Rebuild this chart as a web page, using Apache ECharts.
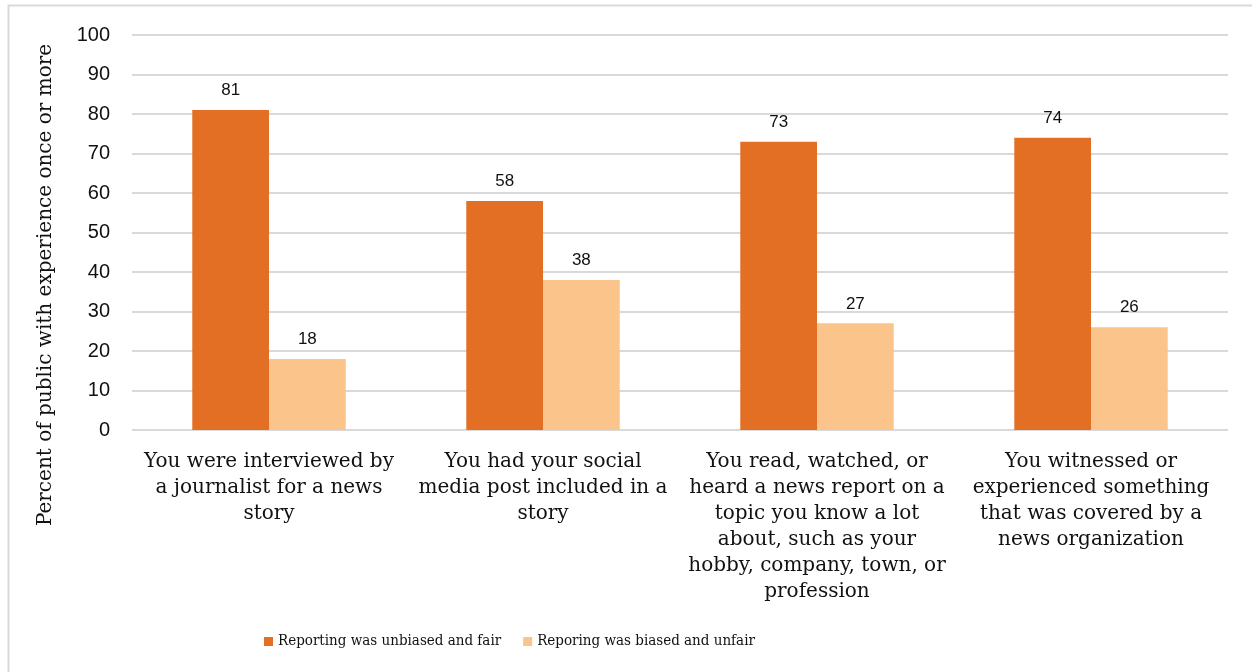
<!DOCTYPE html>
<html>
<head>
<meta charset="utf-8">
<script src="https://cdn.jsdelivr.net/npm/echarts@6/dist/echarts.min.js"></script>
<style>html,body{margin:0;padding:0;background:#fff;}#c{width:1252px;height:672px;}</style>
</head>
<body>
<div id="c"></div>
<script>
const categories = [
  "You were interviewed by\na journalist for a news\nstory",
  "You had your social\nmedia post included in a\nstory",
  "You read, watched, or\nheard a news report on a\ntopic you know a lot\nabout, such as your\nhobby, company, town, or\nprofession",
  "You witnessed or\nexperienced something\nthat was covered by a\nnews organization"
];
const seriesNames = ["Reporting was unbiased and fair", "Reporing was biased and unfair"];
const unbiasedFair = [81, 58, 73, 74];
const biasedUnfair = [18, 38, 27, 26];
const yAxisTitle = "Percent of public with experience once or more";

const chart = echarts.init(document.getElementById('c'), null, {renderer: 'canvas'});
const labelStyle = {show: true, position: 'top', distance: 11, color: '#111', fontFamily: 'Liberation Sans, Arial, sans-serif', fontSize: 17};
chart.setOption({
  animation: false,
  backgroundColor: '#fff',
  graphic: [{
    type: 'rect', shape: {x: 8.5, y: 5.5, width: 1300, height: 700},
    style: {fill: 'none', stroke: '#d9d9d9', lineWidth: 2}, silent: true, z: -1
  }, {
    type: 'text', x: 46, y: 285, rotation: Math.PI / 2, silent: true,
    style: {text: yAxisTitle, fontFamily: 'DejaVu Serif, serif', fontSize: 20, fill: '#111', align: 'center', verticalAlign: 'middle'}
  }],
  grid: {left: 132, right: 24, top: 35, bottom: 242},
  legend: {
    bottom: 18, left: 259, itemWidth: 9, itemHeight: 9, itemGap: 22,
    icon: 'rect',
    textStyle: {fontFamily: 'DejaVu Serif Condensed, DejaVu Serif, serif', fontSize: 15, color: '#111', padding: [0, 0, 0, 0]},
    data: seriesNames
  },
  xAxis: {
    type: 'category', data: categories,
    axisLine: {show: false}, axisTick: {show: false},
    axisLabel: {interval: 0, margin: 19, fontFamily: 'DejaVu Serif, serif', fontSize: 20, lineHeight: 26, color: '#111', align: 'center'}
  },
  yAxis: {
    type: 'value', min: 0, max: 100, interval: 10,
    axisLine: {show: false}, axisTick: {show: false},
    axisLabel: {margin: 22, fontFamily: 'Liberation Sans, Arial, sans-serif', fontSize: 20, color: '#111'},
    splitLine: {lineStyle: {color: '#d9d9d9', width: 2}}
  },
  series: [
    {name: seriesNames[0], type: 'bar', data: unbiasedFair, barGap: '0%', barCategoryGap: '44%',
     itemStyle: {color: '#E36F25'}, label: labelStyle},
    {name: seriesNames[1], type: 'bar', data: biasedUnfair,
     itemStyle: {color: '#FAC48A'}, label: labelStyle}
  ]
});
</script>
</body>
</html>
